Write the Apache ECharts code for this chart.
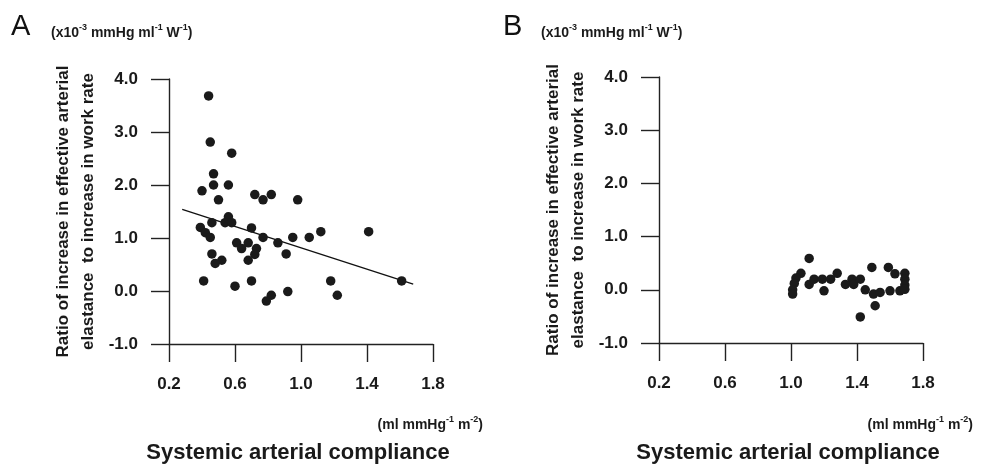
<!DOCTYPE html>
<html>
<head>
<meta charset="utf-8">
<script src="https://cdn.jsdelivr.net/npm/echarts@6/dist/echarts.min.js"></script>
<style>
html,body{margin:0;padding:0;background:#fff;}
#chart{width:981px;height:464px;}
</style>
</head>
<body>
<div id="chart"></div>
<script>
// panel A: compliance (ml mmHg-1 m-2) vs ratio (x10-3 mmHg ml-1 W-1)
var pointsA = [
	[0.44,3.68],[0.45,2.81],[0.58,2.60],[0.47,2.21],[0.47,2.00],[0.40,1.89],
	[0.56,2.00],[0.50,1.72],[0.72,1.82],[0.77,1.72],[0.82,1.82],[0.98,1.72],
	[0.56,1.40],[0.54,1.29],[0.58,1.29],[0.46,1.29],[0.39,1.20],[0.70,1.19],
	[1.12,1.12],[1.41,1.12],[0.42,1.10],[0.45,1.01],[0.77,1.01],[0.95,1.01],
	[1.05,1.01],[0.61,0.91],[0.68,0.91],[0.64,0.80],[0.73,0.80],[0.72,0.69],
	[0.86,0.91],[0.91,0.70],[0.46,0.70],[0.52,0.58],[0.48,0.52],[0.68,0.58],
	[0.41,0.19],[0.60,0.09],[0.70,0.19],[1.18,0.19],[1.61,0.19],[1.22,-0.08],
	[0.92,-0.01],[0.82,-0.08],[0.79,-0.19]
];
var fitA = [[0.28,1.54],[1.68,0.13]];
// panel B
var pointsB = [
	[1.11,0.59],[1.06,0.31],[1.03,0.22],[1.02,0.12],[1.01,0.00],[1.01,-0.08],
	[1.11,0.10],[1.14,0.20],[1.19,0.20],[1.20,-0.02],[1.24,0.20],[1.28,0.31],
	[1.33,0.10],[1.37,0.20],[1.38,0.10],[1.42,0.20],[1.45,0.00],[1.49,0.42],
	[1.50,-0.08],[1.54,-0.05],[1.51,-0.30],[1.42,-0.51],[1.59,0.42],[1.63,0.30],
	[1.60,-0.02],[1.66,-0.02],[1.69,0.31],[1.69,0.20],[1.69,0.09],[1.69,0.01]
];
var xTicks = [0.2, 0.6, 1.0, 1.4, 1.8];
var yTicks = [-1, 0, 1, 2, 3, 4];
var panelNames = ['A', 'B'];
var yName = 'Ratio of increase in effective arterial\nelastance  to increase in work rate';
var xName = 'Systemic arterial compliance';

var font = '"Liberation Sans", Arial, sans-serif';
var ink = '#1a1a1a';

function xAxisOf(idx){
	return {
		type:'value', gridIndex:idx, min:xTicks[0], max:xTicks[xTicks.length-1], interval:0.4,
		axisLine:{onZero:false, lineStyle:{color:'#222', width:1.4}},
		axisTick:{inside:false, length:18, lineStyle:{color:'#222', width:1.4}},
		axisLabel:{margin:32, color:ink, fontFamily:font, fontWeight:'bold', fontSize:17,
			formatter:function(v){ return v.toFixed(1); }},
		splitLine:{show:false}
	};
}
function yAxisOf(idx){
	return {
		type:'value', gridIndex:idx, min:yTicks[0], max:yTicks[yTicks.length-1], interval:1,
		name:yName, nameLocation:'middle', nameRotate:90, nameGap:68,
		nameTextStyle:{color:ink, fontFamily:font, fontWeight:'bold', fontSize:17, lineHeight:25},
		axisLine:{onZero:false, lineStyle:{color:'#222', width:1.4}},
		axisTick:{inside:false, length:18, lineStyle:{color:'#222', width:1.4}},
		axisLabel:{margin:31, color:ink, fontFamily:font, fontWeight:'bold', fontSize:17,
			formatter:function(v){ return v.toFixed(1); }},
		splitLine:{show:false}
	};
}

var supRich = {
	n:{fontFamily:font, fontWeight:'bold', fontSize:14, lineHeight:17, verticalAlign:'bottom', fill:ink, color:ink},
	s:{fontFamily:font, fontWeight:'bold', fontSize:9, lineHeight:17, verticalAlign:'top', fill:ink, color:ink}
};
var unitY = '{n|(x10}{s|-3}{n| mmHg ml}{s|-1}{n| W}{s|-1}{n|)}';
var unitX = '{n|(ml mmHg}{s|-1}{n| m}{s|-2}{n|)}';

var graphics = [];
var offs = [0, 490];
for (var i = 0; i < 2; i++){
	var o = offs[i];
	graphics.push({type:'text', left: 11 + o + (i ? 2 : 0), top: 12,
		style:{text:panelNames[i], font:'29px ' + font, fill:'#111'}});
	graphics.push({type:'text', left: 51 + o, top: 23,
		style:{text:unitY, rich:supRich}});
	graphics.push({type:'text', right: 981 - (483 + o), top: 415,
		style:{text:unitX, rich:supRich}});
	graphics.push({type:'text', x: 298 + o, y: 453,
		style:{text:xName, font:'bold 22px ' + font, fill:ink, align:'center', verticalAlign:'middle'}});
}

var myChart = echarts.init(document.getElementById('chart'));
var option = {
	animation:false,
	grid:[
		{left:169, top:79, width:264, height:265},
		{left:659, top:77, width:264, height:266}
	],
	xAxis:[xAxisOf(0), xAxisOf(1)],
	yAxis:[yAxisOf(0), yAxisOf(1)],
	graphic:graphics,
	series:[
		{type:'scatter', xAxisIndex:0, yAxisIndex:0, data:pointsA, symbolSize:9.5,
			itemStyle:{color:ink, opacity:1}},
		{type:'line', xAxisIndex:0, yAxisIndex:0, data:fitA, showSymbol:false, symbol:'none',
			lineStyle:{color:'#111', width:1.3}, z:1},
		{type:'scatter', xAxisIndex:1, yAxisIndex:1, data:pointsB, symbolSize:9.5,
			itemStyle:{color:ink, opacity:1}}
	]
};
myChart.setOption(option);
</script>
</body>
</html>
